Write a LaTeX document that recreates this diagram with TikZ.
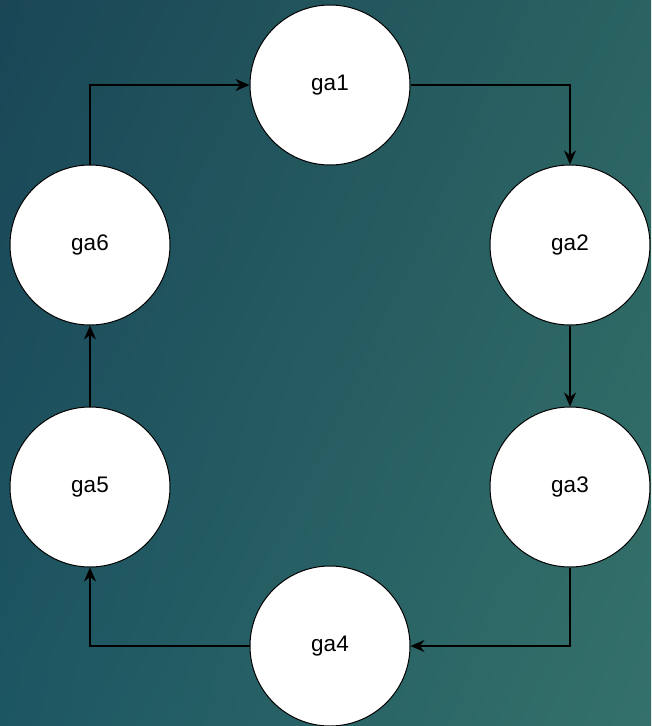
\documentclass[tikz,border=0pt]{standalone}
\usepackage{fontspec}
\setmainfont{Liberation Sans}
\usetikzlibrary{arrows.meta,shadings}
\definecolor{bgTL}{HTML}{1A4656}
\definecolor{bgTR}{HTML}{2A6362}
\definecolor{bgBL}{HTML}{1D5663}
\definecolor{bgBR}{HTML}{35716A}
\tikzset{
  gnode/.style={circle, draw=black, line width=1pt, fill=white, minimum size=160pt, inner sep=0pt,
    font=\fontsize{22.5}{26}\selectfont},
  conn/.style={draw=black, line width=1.6pt, -{Stealth[length=14pt,width=12pt,inset=4.5pt]}}
}
\begin{document}
\begin{tikzpicture}[x=1pt,y=-1pt]
\shade[upper left=bgTL, upper right=bgTR, lower left=bgBL, lower right=bgBR] (0,0) rectangle (651,726);
\useasboundingbox (0,0) rectangle (651,726);
\node[gnode] (ga1) at (330,85) {ga1};
\node[gnode] (ga2) at (570,245) {ga2};
\node[gnode] (ga3) at (570,487) {ga3};
\node[gnode] (ga4) at (330,646) {ga4};
\node[gnode] (ga5) at (90,487) {ga5};
\node[gnode] (ga6) at (90,245) {ga6};
\draw[conn] (ga1.east) -| (ga2.north);
\draw[conn] (ga2.south) -- (ga3.north);
\draw[conn] (ga3.south) |- (ga4.east);
\draw[conn] (ga4.west) -| (ga5.south);
\draw[conn] (ga5.north) -- (ga6.south);
\draw[conn] (ga6.north) |- (ga1.west);
\end{tikzpicture}
\end{document}
